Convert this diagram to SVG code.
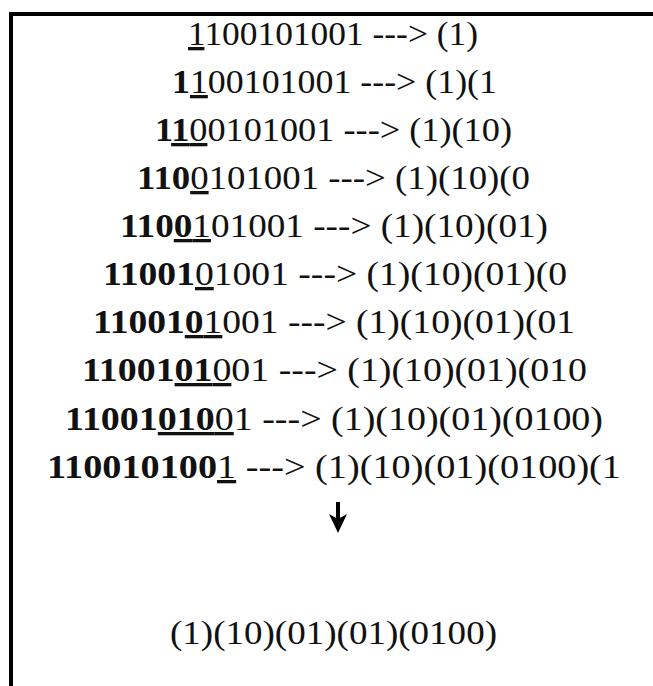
<svg xmlns="http://www.w3.org/2000/svg" width="653" height="686" viewBox="0 0 653 686">
<style>
  text { font-family: "Liberation Serif", "Times New Roman", serif; font-size: 33px; fill: #111; }
  .b { font-weight: bold; }
  .u { text-decoration: underline; }
  .frame { stroke: #000; stroke-width: 4; fill: none; }
  .shaft { stroke: #000; stroke-width: 4; fill: none; }
  .head { fill: #000; }
</style>
<rect width="653" height="686" fill="#fff"/>
<g id="frame">
  <path class="frame" d="M11,686 L11,14 L653,14"/>
</g>
<g id="steps">
  <text id="r1" x="188" y="45" textLength="290" lengthAdjust="spacingAndGlyphs"><tspan class="u">1</tspan>100101001 ---&gt; (1)</text>
  <text id="r2" x="172" y="93" textLength="325" lengthAdjust="spacingAndGlyphs"><tspan class="b">1</tspan><tspan class="u">1</tspan>00101001 ---&gt; (1)(1</text>
  <text id="r3" x="155" y="141" textLength="357" lengthAdjust="spacingAndGlyphs"><tspan class="b">1</tspan><tspan class="b u">1</tspan><tspan class="u">0</tspan>0101001 ---&gt; (1)(10)</text>
  <text id="r4" x="137" y="189" textLength="393" lengthAdjust="spacingAndGlyphs"><tspan class="b">110</tspan><tspan class="u">0</tspan>101001 ---&gt; (1)(10)(0</text>
  <text id="r5" x="120" y="237" textLength="428" lengthAdjust="spacingAndGlyphs"><tspan class="b">110</tspan><tspan class="b u">0</tspan><tspan class="u">1</tspan>01001 ---&gt; (1)(10)(01)</text>
  <text id="r6" x="103" y="285" textLength="464" lengthAdjust="spacingAndGlyphs"><tspan class="b">11001</tspan><tspan class="u">0</tspan>1001 ---&gt; (1)(10)(01)(0</text>
  <text id="r7" x="93" y="333" textLength="482" lengthAdjust="spacingAndGlyphs"><tspan class="b">11001</tspan><tspan class="b u">0</tspan><tspan class="u">1</tspan>001 ---&gt; (1)(10)(01)(01</text>
  <text id="r8" x="82" y="381" textLength="505" lengthAdjust="spacingAndGlyphs"><tspan class="b">11001</tspan><tspan class="b u">01</tspan><tspan class="u">0</tspan>01 ---&gt; (1)(10)(01)(010</text>
  <text id="r9" x="65" y="430" textLength="538" lengthAdjust="spacingAndGlyphs"><tspan class="b">11001</tspan><tspan class="b u">010</tspan><tspan class="u">0</tspan>1 ---&gt; (1)(10)(01)(0100)</text>
  <text id="r10" x="47" y="478" textLength="574" lengthAdjust="spacingAndGlyphs"><tspan class="b">110010100</tspan><tspan class="u">1</tspan> ---&gt; (1)(10)(01)(0100)(1</text>
</g>
<g id="connectors">
  <line class="shaft" x1="338" y1="502" x2="338" y2="519"/>
  <polygon class="head" points="329,514 338,519 347,514 338,533"/>
</g>
<g id="result">
  <text x="170" y="644" textLength="327" lengthAdjust="spacingAndGlyphs">(1)(10)(01)(01)(0100)</text>
</g>
</svg>
